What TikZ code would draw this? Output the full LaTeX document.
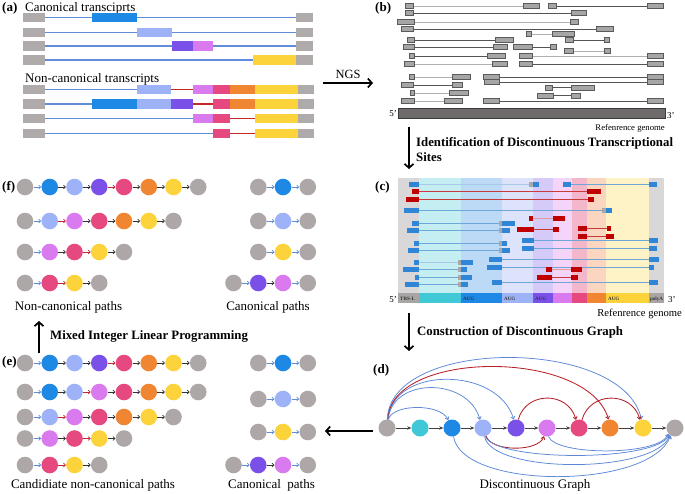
\documentclass[tikz,border=0pt]{standalone}
\usepackage{fontspec}
\setmainfont{Liberation Serif}
\usetikzlibrary{arrows.meta}
\definecolor{gry}{HTML}{ADA8A7}
\definecolor{blu}{HTML}{1E88E5}
\definecolor{lbl}{HTML}{9EB3F7}
\definecolor{pur}{HTML}{7B50E8}
\definecolor{vio}{HTML}{D97BEE}
\definecolor{pnk}{HTML}{E5497F}
\definecolor{org}{HTML}{F08532}
\definecolor{yel}{HTML}{FDD33B}
\definecolor{cya}{HTML}{40C8D6}
\definecolor{lnblue}{HTML}{5F8DD8}
\definecolor{lnred}{HTML}{C62828}
\definecolor{agry}{HTML}{B0ABAB}
\definecolor{bgG}{HTML}{D9D7D7}
\definecolor{bgC}{HTML}{C5EEF3}
\definecolor{bgB}{HTML}{BCDAF5}
\definecolor{bgL}{HTML}{DDE3FB}
\definecolor{bgP}{HTML}{D6CBF8}
\definecolor{bgV}{HTML}{F4D4F8}
\definecolor{bgK}{HTML}{F3B6CA}
\definecolor{bgO}{HTML}{FAD6C1}
\definecolor{bgY}{HTML}{FEF2C7}
\definecolor{bandG}{HTML}{A9A5A5}
\definecolor{rbl}{HTML}{2F86D6}
\definecolor{rrd}{HTML}{C00000}
\definecolor{rgy}{HTML}{A8A8A8}
\definecolor{lnb}{HTML}{6EA6D8}
\definecolor{lnlb}{HTML}{A8C8EA}
\definecolor{lnr}{HTML}{C83B3B}
\definecolor{lnp}{HTML}{E39A9A}
\definecolor{arcblue}{HTML}{5B87D6}
\definecolor{arcred}{HTML}{B82028}
\definecolor{rboxF}{HTML}{A6A6A6}
\definecolor{rboxD}{HTML}{5A5A5A}
\definecolor{blD}{HTML}{555555}
\definecolor{blL}{HTML}{B0B0B0}
\definecolor{pk}{HTML}{333333}
\definecolor{pr}{HTML}{C0282D}
\definecolor{dk}{HTML}{404040}
\definecolor{genF}{HTML}{6F6B6B}
\definecolor{genD}{HTML}{3A3A3A}
\newcommand\abar[4]{\fill[#4] (#1,#3-4.6) rectangle (#2,#3+4.6);}
\newcommand\bread[6]{%
  \draw[#6] (#3,#1) -- (#4,#1);
  \filldraw[rbox] (#2,#1-2.3) rectangle (#3,#1+2.3);
  \filldraw[rbox] (#4,#1-2.3) rectangle (#5,#1+2.3);}
\newcommand\cbx[4]{\fill[#4] (#1,#3-2.5) rectangle (#2,#3+2.5);}
\newcommand\cln[4]{\draw[line width=0.8pt,#4] (#1,#3) -- (#2,#3);}
\newcommand\pathrow[4]{%
  \foreach \c/\a [count=\i] in {#4} {%
    \node[pn, fill=\c] (#1\i) at ({#2+(\i-1)*24.75},#3) {};
    \ifnum\i>1
      \pgfmathtruncatemacro\j{\i-1}%
      \draw[\a] (#1\j) -- (#1\i);
    \fi
  }%
}
\begin{document}
\begin{tikzpicture}[x=1pt,y=-1pt,
  lab/.style={font=\fontsize{13}{15}\selectfont\bfseries, inner sep=0pt, anchor=base west},
  txt/.style={font=\fontsize{13}{15}\selectfont, inner sep=0pt},
  btxt/.style={font=\fontsize{12.8}{15}\selectfont\bfseries, inner sep=0pt, anchor=base west},
  aln/.style={draw=lnblue, line width=1.2pt},
  arl/.style={draw=lnred, line width=1.2pt},
  rbox/.style={fill=rboxF, draw=rboxD, line width=0.5pt},
  blnD/.style={draw=blD, line width=0.7pt},
  blnL/.style={draw=blL, line width=0.7pt},
  bigarr/.style={line width=1.7pt, -{Straight Barb[length=4pt,width=9pt]}},
  pn/.style={circle, minimum size=16.6pt, inner sep=0pt, draw=none},
  pab/.style={draw=lnblue, line width=0.7pt, -{Straight Barb[length=2pt,width=3.6pt]}},
  pak/.style={draw=pk, line width=0.7pt, -{Straight Barb[length=2pt,width=3.6pt]}},
  par/.style={draw=pr, line width=0.7pt, -{Straight Barb[length=2pt,width=3.6pt]}},
  gn/.style={circle, minimum size=17pt, inner sep=0pt, draw=none},
  dar/.style={draw=dk, line width=0.8pt, -{Stealth[length=4pt,width=3.5pt]}},
  arcB/.style={draw=arcblue, line width=0.75pt, -{Straight Barb[length=2.5pt,width=4pt]}},
  arcR/.style={draw=arcred, line width=0.85pt, -{Straight Barb[length=2.5pt,width=4pt]}},
  bandlab/.style={font=\fontsize{5}{6}\selectfont\bfseries, inner sep=0pt, anchor=base west, text=pk}
]
\useasboundingbox (0,0) rectangle (685,493);
\fill[white] (0,0) rectangle (685,493);

% ===== (a) =====
\node[lab] (la) at (2,11.5) {(a)};
\node[txt, anchor=base west] (tcan) at (25,11.5) {Canonical transciprts};
\node[txt, anchor=base west] (tnon) at (25,82) {Non-canonical transcripts};
\draw[aln] (45,17.7) -- (296,17.7); \abar{23}{45}{17.7}{agry}\abar{296}{313}{17.7}{agry}\abar{92}{137}{17.7}{blu}
\draw[aln] (45,32.3) -- (296,32.3); \abar{23}{45}{32.3}{agry}\abar{296}{313}{32.3}{agry}\abar{137}{172}{32.3}{lbl}
\draw[aln] (45,46) -- (296,46); \abar{23}{45}{46}{agry}\abar{296}{313}{46}{agry}\abar{172}{193}{46}{pur}\abar{193}{213}{46}{vio}
\draw[aln] (45,60) -- (253,60); \abar{23}{45}{60}{agry}\abar{253}{296}{60}{yel}\abar{296}{313}{60}{agry}
\draw[aln] (45,89.3) -- (137,89.3); \draw[arl] (171,89.3) -- (193,89.3);
\abar{23}{45}{89.3}{agry}\abar{137}{171}{89.3}{lbl}\abar{193}{213}{89.3}{vio}\abar{213}{230}{89.3}{pnk}\abar{230}{255}{89.3}{org}\abar{255}{298}{89.3}{yel}\abar{298}{314}{89.3}{agry}
\draw[aln] (45,104) -- (92,104); \draw[arl] (193,104) -- (213,104);
\abar{23}{45}{104}{agry}\abar{92}{137}{104}{blu}\abar{137}{171}{104}{lbl}\abar{171}{193}{104}{pur}\abar{213}{230}{104}{pnk}\abar{230}{255}{104}{org}\abar{255}{298}{104}{yel}\abar{298}{314}{104}{agry}
\draw[aln] (45,118.3) -- (193,118.3); \draw[arl] (230,118.3) -- (255,118.3);
\abar{23}{45}{118.3}{agry}\abar{193}{213}{118.3}{vio}\abar{213}{230}{118.3}{pnk}\abar{255}{298}{118.3}{yel}\abar{298}{314}{118.3}{agry}
\draw[aln] (45,133.3) -- (213,133.3); \draw[arl] (230,133.3) -- (255,133.3);
\abar{23}{45}{133.3}{agry}\abar{213}{230}{133.3}{pnk}\abar{255}{298}{133.3}{yel}\abar{298}{314}{133.3}{agry}

% NGS arrow
\coordinate (ngsA) at (323,83);
\coordinate (ngsB) at (373,83);
\draw[bigarr] (ngsA) -- (ngsB);
\node[font=\fontsize{12.5}{14}\selectfont, inner sep=0pt, anchor=base] (tngs) at (348,78) {NGS};

% ===== (b) =====
\node[lab] (lb) at (375,11.5) {(b)};
\bread{6}{405}{413}{523}{539}{blnL}\bread{6}{548}{556}{647}{663}{blnD}
\bread{13}{405}{413}{571}{586}{blnD}
\bread{22}{397}{414}{570}{578}{blnL}
\bread{29}{401}{413}{596}{613}{blnD}
\bread{34}{526}{531}{552}{574}{blnL}
\bread{40}{407}{414}{495}{513}{blnD}\bread{40}{565}{573}{604}{609}{blnD}
\bread{47}{403}{414}{493}{507}{blnD}\bread{47}{513}{532}{550}{556}{blnD}
\bread{51}{564}{573}{604}{610}{blnL}
\bread{56}{409}{414}{487}{505}{blnD}\bread{56}{519}{532}{647}{663}{blnL}
\bread{64}{404}{414}{492}{507}{blnL}\bread{64}{519}{532}{647}{663}{blnD}
\bread{77}{409}{414}{452}{470}{blnL}\bread{77}{483}{499}{647}{663}{blnD}
\bread{82}{484}{499}{647}{663}{blnD}
\bread{85}{401}{413}{452}{462}{blnD}
\bread{87.5}{545}{552}{571}{594}{blnD}
\bread{93}{410}{414}{449}{468}{blnL}
\bread{95.5}{537}{553}{571}{580}{blnD}
\bread{101}{401}{414}{444}{462}{blnL}\bread{101}{483}{499}{647}{663}{blnD}
\filldraw[fill=genF, draw=genD, line width=0.6pt] (398,108) rectangle (665,118);
\node[font=\fontsize{9}{10}\selectfont, inner sep=0pt, anchor=base east] (b5) at (397,116) {5’};
\node[font=\fontsize{9}{10}\selectfont, inner sep=0pt, anchor=base west] (b3) at (667,118) {3’};
\node[font=\fontsize{8.7}{10}\selectfont, inner sep=0pt, anchor=base east] (brg) at (665,130) {Refenrence genome};

% arrow b -> c
\coordinate (bcA) at (409,127);
\coordinate (bcB) at (409,169);
\draw[bigarr] (bcA) -- (bcB);
\node[btxt] (tid1) at (416,146.7) {Identification of Discontinuous Transcriptional};
\node[btxt] (tid2) at (416,161.7) {Sites};

% ===== (c) =====
\node[lab] (lc) at (375,190.7) {(c)};
\foreach \xa/\xb/\bg/\bd in {398/419/bgG/bandG, 419/461/bgC/cya, 461/502/bgB/blu, 502/533/bgL/lbl, 533/553/bgP/pur, 553/572/bgV/vio, 572/587/bgK/pnk, 587/606/bgO/org, 606/649/bgY/yel, 649/664/bgG/bandG} {
  \fill[\bg] (\xa,178) rectangle (\xb,293);
  \fill[\bd] (\xa,293) rectangle (\xb,303);
}
\node[bandlab] at (400,300.5) {TRS-L};
\node[bandlab] at (463,300.5) {AUG};
\node[bandlab] at (504,300.5) {AUG};
\node[bandlab] at (535,300.5) {AUG};
\node[bandlab] at (608,300.5) {AUG};
\node[bandlab] at (650,300.5) {polyA};
\cln{419}{529}{184}{lnlb}\cbx{409}{419}{184}{rbl}\cbx{529}{533}{184}{rgy}\cbx{533}{539}{184}{rbl}
\cln{571}{649}{184}{lnb}\cbx{563}{571}{184}{rbl}\cbx{649}{657}{184}{rbl}
\cln{419}{587}{191}{lnr}\cbx{412}{419}{191}{rrd}\cbx{587}{601}{191}{rrd}
\cln{419}{588}{199}{lnr}\cbx{406}{419}{199}{rrd}\cbx{588}{594}{199}{rrd}
\cln{419}{602}{210}{lnb}\cbx{404}{419}{210}{rbl}\cbx{602}{606}{210}{rgy}\cbx{606}{612}{210}{rbl}
\cln{533}{553}{218}{lnp}\cbx{529}{533}{218}{rrd}\cbx{553}{565}{218}{rrd}
\cln{419}{499}{223}{lnb}\cbx{412}{419}{223}{rbl}\cbx{499}{502}{223}{rgy}\cbx{502}{515}{223}{rbl}
\cln{587}{607}{228}{lnr}\cbx{578}{587}{228}{rrd}\cbx{607}{611}{228}{rrd}
\cln{419}{499}{230}{lnb}\cbx{407}{419}{230}{rbl}\cbx{499}{502}{230}{rgy}\cbx{502}{510}{230}{rbl}
\cln{534}{553}{229}{lnr}\cbx{517}{534}{229}{rrd}\cbx{553}{559}{229}{rrd}
\cln{587}{606}{236}{lnr}\cbx{578}{587}{236}{rrd}\cbx{606}{614}{236}{rrd}
\cln{534}{649}{240}{lnb}\cbx{522}{534}{240}{rbl}\cbx{649}{658}{240}{rbl}
\cln{419}{499}{243}{lnb}\cbx{414}{419}{243}{rbl}\cbx{499}{502}{243}{rgy}\cbx{502}{507}{243}{rbl}
\cln{419}{499}{250}{lnb}\cbx{408}{419}{250}{rbl}\cbx{499}{502}{250}{rgy}\cbx{502}{510}{250}{rbl}
\cln{534}{649}{248}{lnb}\cbx{522}{534}{248}{rbl}\cbx{649}{657}{248}{rbl}
\cln{502}{649}{259}{lnb}\cbx{489}{502}{259}{rbl}\cbx{649}{659}{259}{rbl}
\cln{419}{458}{262}{lnlb}\cbx{414}{419}{262}{rbl}\cbx{458}{461}{262}{rgy}\cbx{461}{473}{262}{rbl}
\cln{502}{649}{267}{lnb}\cbx{487}{502}{267}{rbl}\cbx{649}{654}{267}{rbl}
\cln{419}{458}{269}{lnb}\cbx{403}{419}{269}{rbl}\cbx{458}{461}{269}{rgy}\cbx{461}{467}{269}{rbl}
\cln{552}{571}{269}{lnp}\cbx{546}{552}{269}{rrd}\cbx{571}{582}{269}{rrd}
\cln{419}{458}{277}{lnb}\cbx{415}{419}{277}{rbl}\cbx{458}{461}{277}{rgy}\cbx{461}{472}{277}{rbl}
\cln{552}{571}{277}{lnr}\cbx{537}{552}{277}{rrd}\cbx{571}{578}{277}{rrd}
\cln{502}{649}{282}{lnb}\cbx{492}{502}{282}{rbl}\cbx{649}{658}{282}{rbl}
\cln{419}{458}{284}{lnb}\cbx{405}{419}{284}{rbl}\cbx{458}{461}{284}{rgy}\cbx{461}{468}{284}{rbl}
\node[font=\fontsize{9}{10}\selectfont, inner sep=0pt, anchor=base east] (c5) at (397,302) {5’};
\node[font=\fontsize{9}{10}\selectfont, inner sep=0pt, anchor=base west] (c3) at (668,302) {3’};
\node[font=\fontsize{10.6}{12}\selectfont, inner sep=0pt, anchor=base east] (crg) at (682,316.7) {Refenrence genome};

% arrow c -> d
\coordinate (cdA) at (409,313);
\coordinate (cdB) at (409,351);
\draw[bigarr] (cdA) -- (cdB);
\node[btxt] (tcon) at (417,335) {Construction of Discontinuous Graph};

% ===== (d) =====
\node[lab] (ld) at (373,373) {(d)};
\foreach \nm/\xx/\cc in {0/387/gry, 1/420/cya, 2/452/blu, 3/483/lbl, 4/516/pur, 5/547/vio, 6/579/pnk, 7/610/org, 8/643/yel, 9/675/gry} {
  \node[gn, fill=\cc] (d\nm) at (\xx,428) {};
}
\foreach \a/\b in {0/1,1/2,2/3,3/4,4/5,5/6,6/7,7/8,8/9} {
  \draw[dar] (d\a) -- (d\b);
}
\draw[arcB] (d0.80) .. controls (392,404) and (440,403) .. (d2.115);
\draw[arcB] (d0.82) .. controls (392,377) and (468,377) .. (d3.110);
\draw[arcB] (d0.84) .. controls (392,366) and (498,366) .. (d4.105);
\draw[arcR] (d0.86) .. controls (391,349) and (588,349) .. (d7.100);
\draw[arcB] (d0.88) .. controls (390,337) and (623,337) .. (d8.100);
\draw[arcR] (d4.75) .. controls (526,391) and (568,391) .. (d6.110);
\draw[arcR] (d6.70) .. controls (590,391) and (632,391) .. (d8.110);
\draw[arcR] (d3.290) .. controls (492,452) and (538,452) .. (d5.250);
\draw[arcB] (d2.280) .. controls (462,490) and (650,490) .. (d9.240);
\draw[arcB] (d3.280) .. controls (492,474) and (655,474) .. (d9.235);
\draw[arcB] (d3.285) .. controls (496,462) and (658,462) .. (d9.228);
\draw[arcB] (d5.280) .. controls (556,456) and (660,456) .. (d9.220);
\node[txt, anchor=base] (tdg) at (535,488) {Discontinuous Graph};

% arrow d -> e
\coordinate (deA) at (373,431);
\coordinate (deB) at (325,431);
\draw[bigarr] (deA) -- (deB);

% ===== (e) =====
\node[lab] (le) at (2,365) {(e)};
\pathrow{eA}{25}{363}{gry/x, blu/pab, lbl/pak, pur/pak, pnk/par, org/pak, yel/pak, gry/pak}
\pathrow{eB}{25}{392}{gry/x, blu/pab, lbl/pak, vio/par, pnk/pak, org/pak, yel/pak, gry/pak}
\pathrow{eC}{25}{417}{gry/x, lbl/pab, vio/par, pnk/pak, org/pak, yel/pak, gry/pak}
\pathrow{eD}{25}{438.5}{gry/x, vio/pab, pnk/pak, yel/par, gry/pak}
\pathrow{eE}{25}{465}{gry/x, pnk/pab, yel/par, gry/pak}
\pathrow{eF}{258.3}{363}{gry/x, blu/pab, gry/pab}
\pathrow{eG}{258.3}{399}{gry/x, lbl/pab, gry/pab}
\pathrow{eH}{258.3}{432}{gry/x, yel/pab, gry/pab}
\pathrow{eI}{233.5}{465}{gry/x, pur/pab, vio/pak, gry/pab}
\node[txt, anchor=base] (tcand) at (93,488) {Candidiate non-canonical paths};
\node[txt, anchor=base] (tcan2) at (271.5,488) {Canonical\ \ paths};

% arrow e -> f
\coordinate (efA) at (39,353);
\coordinate (efB) at (39,321);
\draw[bigarr] (efA) -- (efB);
\node[btxt] (tmilp) at (50,339.3) {Mixed Integer Linear Programming};

% ===== (f) =====
\node[lab] (lf) at (2,190.7) {(f)};
\pathrow{fA}{25}{187}{gry/x, blu/pab, lbl/pak, pur/pak, pnk/par, org/pak, yel/pak, gry/pak}
\pathrow{fB}{25}{221}{gry/x, lbl/pab, vio/par, pnk/pak, org/pak, yel/pak, gry/pak}
\pathrow{fC}{25}{252}{gry/x, vio/pab, pnk/pak, yel/par, gry/pak}
\pathrow{fD}{25}{283}{gry/x, pnk/pab, yel/par, gry/pak}
\pathrow{fE}{258.3}{187}{gry/x, blu/pab, gry/pab}
\pathrow{fF}{258.3}{221}{gry/x, lbl/pab, gry/pab}
\pathrow{fG}{258.3}{252}{gry/x, yel/pab, gry/pab}
\pathrow{fH}{233.5}{283}{gry/x, pur/pab, vio/pak, gry/pab}
\node[txt, anchor=base] (tnonp) at (68.5,310) {Non-canonical paths};
\node[txt, anchor=base] (tcanp) at (268,310) {Canonical paths};
\end{tikzpicture}
\end{document}
